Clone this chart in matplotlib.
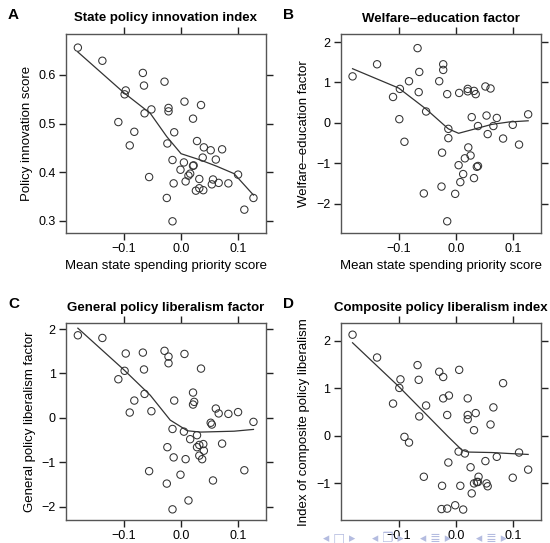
import matplotlib
matplotlib.use("Agg")
import matplotlib.pyplot as plt

plt.rcParams['font.family'] = ['Liberation Sans', 'DejaVu Sans']

# ---- data ----
xA = [-0.181, -0.138, -0.067, -0.065, -0.097, -0.099, -0.029, 0.006, 0.035, -0.022,
      -0.022, -0.052, -0.064, 0.021, -0.110, -0.082, -0.012, -0.090, -0.024, 0.028,
      0.040, 0.052, 0.072, 0.038, 0.061, -0.015, 0.005, 0.022, 0.021, -0.001,
      0.016, 0.013, 0.032, 0.056, 0.100, -0.056, 0.008, -0.013, 0.054, 0.066,
      0.083, 0.032, 0.026, 0.039, 0.127, -0.025, 0.111, -0.015]
yA = [0.656, 0.629, 0.604, 0.578, 0.568, 0.560, 0.586, 0.545, 0.538, 0.532,
      0.525, 0.529, 0.521, 0.510, 0.503, 0.483, 0.482, 0.455, 0.459, 0.464,
      0.451, 0.445, 0.447, 0.430, 0.426, 0.425, 0.420, 0.414, 0.413, 0.405,
      0.397, 0.393, 0.386, 0.385, 0.395, 0.390, 0.381, 0.377, 0.375, 0.378,
      0.377, 0.367, 0.362, 0.363, 0.347, 0.347, 0.323, 0.299]

xB = [-0.181, -0.138, -0.067, -0.064, -0.082, -0.098, -0.065, -0.110, -0.099, -0.052,
      -0.090, -0.022, -0.022, -0.029, -0.015, 0.006, 0.021, 0.021, 0.032, 0.035,
      0.052, 0.061, 0.028, 0.054, 0.072, 0.127, -0.013, 0.039, 0.066, 0.100,
      0.056, -0.013, 0.083, 0.111, 0.022, -0.024, 0.026, 0.016, 0.005, 0.039,
      0.037, 0.013, 0.008, 0.032, -0.025, -0.056, -0.001, -0.015]
yB = [1.15, 1.45, 1.85, 1.26, 1.03, 0.84, 0.76, 0.64, 0.09, 0.28,
      -0.47, 1.45, 1.31, 1.03, 0.71, 0.74, 0.84, 0.78, 0.79, 0.71,
      0.90, 0.85, 0.14, 0.18, 0.12, 0.21, -0.15, -0.08, -0.08, -0.05,
      -0.28, -0.38, -0.39, -0.54, -0.61, -0.74, -0.81, -0.88, -1.05, -1.07,
      -1.09, -1.27, -1.47, -1.37, -1.58, -1.75, -1.76, -2.44]

xC = [-0.181, -0.138, -0.097, -0.067, -0.029, -0.022, -0.022, 0.006, 0.035, -0.099,
      -0.065, -0.110, -0.064, -0.082, -0.012, 0.021, 0.023, 0.021, -0.090, -0.052,
      0.061, 0.066, 0.083, 0.100, 0.127, 0.052, 0.054, -0.015, 0.005, 0.028,
      0.016, 0.039, 0.032, 0.072, 0.028, -0.024, 0.040, 0.032, 0.037, -0.013,
      0.008, -0.056, 0.111, 0.056, -0.001, -0.025, 0.013, -0.015]
yC = [1.86, 1.80, 1.45, 1.47, 1.51, 1.38, 1.23, 1.44, 1.11, 1.06,
      1.09, 0.87, 0.54, 0.39, 0.39, 0.57, 0.36, 0.30, 0.12, 0.15,
      0.21, 0.10, 0.09, 0.13, -0.09, -0.11, -0.15, -0.25, -0.31, -0.39,
      -0.48, -0.59, -0.61, -0.58, -0.66, -0.66, -0.74, -0.85, -0.93, -0.89,
      -0.93, -1.20, -1.18, -1.41, -1.28, -1.48, -1.86, -2.06]

xD = [-0.181, -0.138, -0.067, -0.097, -0.065, -0.099, -0.029, -0.022, 0.006, 0.083,
      -0.022, -0.012, 0.021, -0.110, -0.052, 0.066, -0.015, 0.021, 0.035, 0.021,
      -0.064, 0.061, 0.032, -0.090, -0.082, 0.005, 0.016, 0.111, 0.072, 0.052,
      -0.013, 0.026, 0.127, -0.056, 0.040, 0.100, 0.037, 0.039, 0.032, 0.054,
      0.056, -0.024, 0.008, 0.028, -0.001, -0.025, -0.015, 0.013]
yD = [2.13, 1.65, 1.49, 1.19, 1.18, 1.01, 1.35, 1.24, 1.39, 1.11,
      0.79, 0.85, 0.79, 0.68, 0.64, 0.60, 0.44, 0.44, 0.48, 0.35,
      0.41, 0.24, 0.12, -0.02, -0.14, -0.33, -0.37, -0.35, -0.44, -0.53,
      -0.56, -0.66, -0.71, -0.86, -0.86, -0.88, -0.97, -0.97, -1.00, -1.00,
      -1.06, -1.05, -1.05, -1.21, -1.46, -1.54, -1.53, -1.55]

# smooth (loess) curves
curve_x = [-0.181, -0.100, -0.054, -0.025, 0.000, 0.034, 0.063, 0.093, 0.127]
curveA = [0.647, 0.563, 0.521, 0.473, 0.438, 0.425, 0.412, 0.397, 0.353]
curveB_x = [-0.181, -0.100, -0.052, -0.013, 0.005, 0.034, 0.063, 0.093, 0.127]
curveB = [1.34, 0.86, 0.34, -0.15, -0.26, -0.15, -0.04, 0.02, 0.05]
curveC_x = [-0.181, -0.100, -0.054, -0.019, 0.011, 0.034, 0.093, 0.127]
curveC = [2.02, 1.08, 0.51, -0.05, -0.29, -0.32, -0.30, -0.26]
curveD_x = [-0.181, -0.100, -0.054, -0.013, 0.011, 0.022, 0.063, 0.093, 0.127]
curveD = [1.96, 1.04, 0.48, -0.02, -0.30, -0.34, -0.35, -0.37, -0.39]

xticks = [-0.1, 0.0, 0.1]
xticklabels = ['\u22120.1', '0.0', '0.1']

panels = [
    dict(letter='A', title='State policy innovation index', x=xA, y=yA,
         cx=curve_x, cy=curveA, ylabel='Policy innovation score',
         xlabel='Mean state spending priority score',
         yticks=[0.3, 0.4, 0.5, 0.6], ylim=(0.275, 0.684),
         rect=(66, 34, 266, 233)),
    dict(letter='B', title='Welfare\u2013education factor', x=xB, y=yB,
         cx=curveB_x, cy=curveB, ylabel='Welfare\u2013education factor',
         xlabel='Mean state spending priority score',
         yticks=[-2, -1, 0, 1, 2], ylim=(-2.73, 2.2),
         rect=(340.7, 34, 540.7, 233)),
    dict(letter='C', title='General policy liberalism factor', x=xC, y=yC,
         cx=curveC_x, cy=curveC, ylabel='General policy liberalism factor',
         xlabel=None, yticks=[-2, -1, 0, 1, 2], ylim=(-2.3, 2.13),
         rect=(66, 323.3, 266, 520)),
    dict(letter='D', title='Composite policy liberalism index', x=xD, y=yD,
         cx=curveD_x, cy=curveD, ylabel='Index of composite policy liberalism',
         xlabel=None, yticks=[-1, 0, 1, 2], ylim=(-1.77, 2.37),
         rect=(340.7, 323.3, 540.7, 520)),
]

W, H = 550, 543
fig = plt.figure(figsize=(W / 100, H / 100), dpi=100)
frame_col = '#555555'

for p in panels:
    l, t, r, b = p['rect']
    ax = fig.add_axes([l / W, 1 - b / H, (r - l) / W, (b - t) / H])
    ax.scatter(p['x'], p['y'], s=28, facecolors='none', edgecolors='#333333',
               linewidths=0.75, zorder=3)
    ax.plot(p['cx'], p['cy'], color='#333333', lw=0.9, zorder=2)
    ax.set_xlim(-0.2018, 0.149)
    ax.set_ylim(*p['ylim'])
    ax.set_xticks(xticks)
    ax.set_xticklabels(xticklabels)
    ax.set_yticks(p['yticks'])
    ax.set_yticklabels(['\u2212' + str(abs(v)) if v < 0 else str(v) for v in p['yticks']])
    ax.tick_params(axis='both', which='both', direction='out', length=5, width=1.0,
                   color='#222222', labelsize=9, top=True, right=True,
                   labeltop=False, labelright=False, pad=2.5)
    for s in ax.spines.values():
        s.set_color(frame_col)
        s.set_linewidth(1.0)
    ax.set_title(p['title'], fontsize=9.5, fontweight='bold', pad=9)
    ax.set_ylabel(p['ylabel'], fontsize=9.5, labelpad=4)
    if p['xlabel']:
        ax.set_xlabel(p['xlabel'], fontsize=9.5, labelpad=3)
    fig.text((l - 58) / W, 1 - (t - 19) / H, p['letter'], fontsize=11,
             fontweight='bold', ha='left', va='center')

# beamer navigation symbols (drawn faintly on top, as in the reference)
nav_groups = ['\u25c2 \u25a1 \u25b8', '\u25c2 \u2750 \u25b8',
              '\u25c2 \u2263 \u25b8', '\u25c2 \u2263 \u25b8']
nav_x = [339, 388, 435, 492]
for g, xp in zip(nav_groups, nav_x):
    fig.text(xp / W, 1 - 538 / H, g, fontsize=9, color='#b4bce0',
             ha='center', va='center', family='DejaVu Sans', zorder=10)

fig.savefig('out.png', dpi=100)
